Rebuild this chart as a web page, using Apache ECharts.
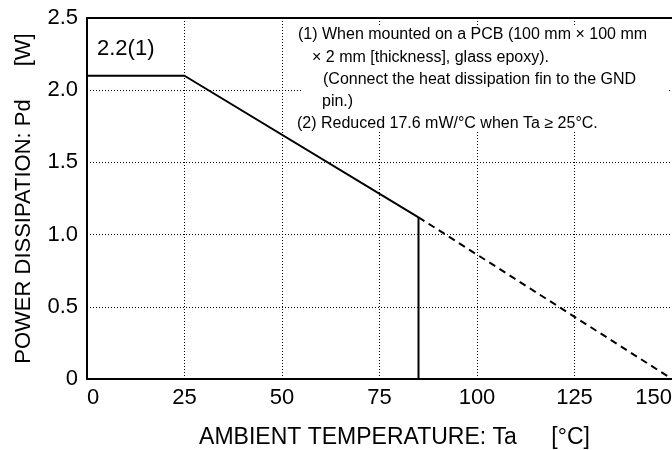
<!DOCTYPE html>
<html><head><meta charset="utf-8">
<script src="https://cdn.jsdelivr.net/npm/echarts@6/dist/echarts.min.js"></script>
<style>html,body{margin:0;padding:0;background:#fff}#c{width:672px;height:450px}</style>
</head><body><div id="c"></div>
<script>
// Data
const xTicks = [0, 25, 50, 75, 100, 125, 150];
const yTicks = [0, 0.5, 1.0, 1.5, 2.0, 2.5];
const solidTemp = [0, 25, 85];
const solidPd = [2.1, 2.1, 1.12];
const cutTemp = [85, 85];
const cutPd = [1.12, 0];
const dashTemp = [85, 150];
const dashPd = [1.12, 0];
const ratingLabel = '2.2(1)';
const noteLines = [
  '(1) When mounted on a PCB (100 mm \u00d7 100 mm',
  '\u00d7 2 mm [thickness], glass epoxy).',
  '(Connect the heat dissipation fin to the GND',
  'pin.)',
  '(2) Reduced 17.6 mW/\u00b0C when Ta \u2265 25\u00b0C.'
];
const xName = 'AMBIENT TEMPERATURE: Ta\u2003\u2002[\u00b0C]';
const yName = 'POWER DISSIPATION: Pd\u2003\u2002[W]';

const pts = (xs, ys) => xs.map((x, i) => [x, ys[i]]);
const FONT = '"Liberation Sans", Arial, sans-serif';
const FS = 22;
const chart = echarts.init(document.getElementById('c'), null, {renderer: 'canvas'});
const noteX = [298, 312, 323, 322, 297];
const noteY = [36, 58.5, 81, 103, 125];
const graphics = [{type: 'rect', left: 302, top: 26, z: 1, shape: {width: 366, height: 106}, style: {fill: '#fff'}}];
noteLines.forEach((t, i) => graphics.push({
  type: 'text', left: noteX[i], top: noteY[i] - 9, z: 100,
  style: {text: t, fill: '#000', font: '16px ' + FONT}
}));
graphics.push({type: 'text', left: 97, top: 38, z: 100, style: {text: ratingLabel, fill: '#000', font: FS + 'px ' + FONT}});

chart.setOption({
  animation: false,
  backgroundColor: '#fff',
  grid: {left: 87, right: 0, top: 18, bottom: 71, containLabel: false, outerBoundsMode: 'none'},
  xAxis: [{
    type: 'value', min: 0, max: 150, interval: 25,
    name: xName, nameLocation: 'middle', nameGap: 47,
    nameTextStyle: {color: '#000', fontSize: 23, fontFamily: FONT, padding: [0, 0, 0, 30]},
    axisLine: {show: true, lineStyle: {color: '#000', width: 2}},
    axisTick: {show: false},
    axisLabel: {color: '#000', fontSize: FS, fontFamily: FONT, margin: 8,
      alignMinLabel: 'left', alignMaxLabel: 'right',
      formatter: v => xTicks.includes(v) ? String(v) : ''},
    splitLine: {show: true, lineStyle: {color: '#000', type: [1, 2], width: 1}}
  }, {
    type: 'value', position: 'top', min: 0, max: 150,
    axisLine: {show: true, lineStyle: {color: '#000', width: 2}},
    axisTick: {show: false}, axisLabel: {show: false}, splitLine: {show: false}
  }],
  yAxis: {
    type: 'value', min: 0, max: 2.5, interval: 0.5,
    name: yName, nameLocation: 'middle', nameGap: 52, nameRotate: 90,
    nameTextStyle: {color: '#000', fontSize: FS, fontFamily: FONT},
    axisLine: {show: true, lineStyle: {color: '#000', width: 2}},
    axisTick: {show: false},
    axisLabel: {color: '#000', fontSize: FS, fontFamily: FONT, margin: 9,
      formatter: v => { const t = yTicks.find(y => Math.abs(y - v) < 1e-9); return t === undefined ? '' : (t === 0 ? '0' : t.toFixed(1)); }},
    splitLine: {show: true, lineStyle: {color: '#000', type: [1, 2], width: 1}}
  },
  series: [
    {type: 'line', z: 5, data: pts(solidTemp, solidPd), symbol: 'none', lineStyle: {color: '#000', width: 2}},
    {type: 'line', z: 5, data: pts(cutTemp, cutPd), symbol: 'none', lineStyle: {color: '#000', width: 2}},
    {type: 'line', z: 5, data: pts(dashTemp, dashPd), symbol: 'none', lineStyle: {color: '#000', width: 2, type: [7, 5]}}
  ],
  graphic: graphics
});
</script></body></html>
